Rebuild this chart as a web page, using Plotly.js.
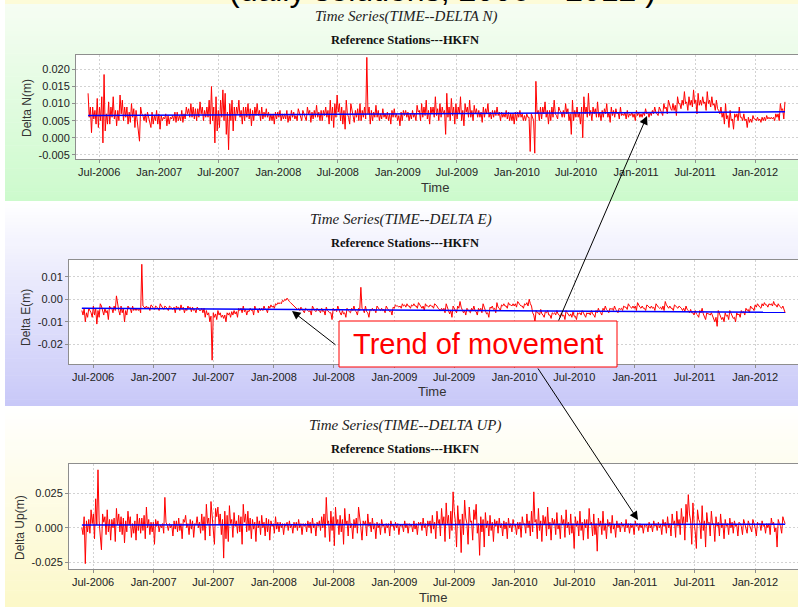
<!DOCTYPE html>
<html>
<head>
<meta charset="utf-8">
<script src="https://cdn.plot.ly/plotly-3.0.1.min.js"></script>
<style>
html,body{margin:0;padding:0;background:#ffffff;}
#chart{width:798px;height:607px;}
</style>
</head>
<body>
<div id="chart"></div>
<script>
// ---------------- DATA (in millimetres) ----------------
// Samples every 3.5 days from 2006-05-28 to 2012-04-01:
// *_HI_MM = value at the start of each week (upper side of the noise band),
// *_LO_MM = value in the middle of each week (lower side of the noise band).
const SAMPLE_START = '2006-05-28';
const SAMPLE_STEP_DAYS = 7;

const DELTA_N_HI_MM = [
  13, 9, 9, 8, 11.5, 9, 12, 18.5, 7, 10.5, 9, 12, 8,
  8, 12.5, 11, 9, 9, 7.5, 10, 8.5, 8, 3, 9, 6.5, 7,
  7.5, 5, 7.5, 6.5, 8, 7, 6.5, 6, 7, 6.5, 6, 6.5, 7.5,
  7.5, 6.5, 8, 7, 9, 8.5, 10, 9, 8.5, 8.5, 10.5, 9, 8,
  9, 11, 15, 9, 12, 8, 11, 14, 13, 7.5, 10, 11, 9,
  9, 11, 8, 9, 9, 10, 8.5, 8, 9, 10, 8, 9, 7.5,
  8.5, 7.5, 7, 7, 7.5, 7.5, 8, 7, 7, 8, 6.5, 8, 7.5,
  6.5, 8.5, 6.5, 8, 6, 9, 8, 7.5, 8, 9.5, 7.5, 8, 8,
  9, 8, 11, 9, 10, 12.5, 10, 9, 8, 11, 6, 10, 7,
  8, 8.5, 10, 8, 9, 23.5, 9, 8, 7.5, 9.5, 8, 7, 8.5,
  7, 7.5, 7, 8, 8.5, 7, 6.5, 7.5, 8, 8, 7.5, 7, 8,
  7, 9.5, 8, 10, 9, 11, 8, 9, 9, 12, 8.5, 10, 9,
  8, 13, 9, 11.5, 9, 10, 9, 12, 8, 10, 9, 11, 8,
  9.5, 8.5, 8, 7.5, 9, 8.5, 10, 7.5, 8, 8, 9, 7.5, 7.5,
  7, 8, 7.5, 7, 7, 7.5, 7.5, 8, 7, 6.5, 7, 6, 7,
  5, 16.5, 8, 9, 9, 10.5, 8, 8, 9, 11, 6.5, 9, 7.5,
  8, 10, 8.5, 7, 11, 8, 9, 7.5, 9, 12, 9, 13, 8,
  9, 8.5, 10.5, 7.5, 8, 8.5, 10, 7.5, 9, 8, 8.5, 7.5, 9,
  7, 7.5, 8, 7, 7.5, 7, 8, 7.5, 7, 7.5, 8.5, 7.5, 7.5,
  8, 9, 7, 9, 7.5, 10, 9, 11, 8.5, 10, 9.5, 12, 10,
  11, 13.5, 10.5, 12, 11, 14, 11, 13, 11, 12, 10.5, 13.5, 11,
  12, 10, 11, 8, 9, 7.5, 10, 6.5, 8, 5.5, 7, 7, 9,
  6, 7, 5.5, 6, 5.5, 6.5, 5.5, 6, 5.5, 6, 6, 6.5, 6,
  6, 6, 7, 7, 10, 8.5, 10.5
];
const DELTA_N_LO_MM = [
  6, 1.5, 5.5, 4, 3, 5, -1.5, 2, 4, 4, 6, 5.5, 3.5,
  5, 7, 5, 6, 4, 4.5, 6, 3, 5, -1, 7, 5, 4.5,
  6, 3, 4, 5, 4, 2.5, 5, 5.5, 3.5, 4, 5.5, 5, 4.5,
  5, 5, 4.5, 5.5, 7, 6, 6, 5.5, 5, 6, 7, 5, 6,
  6, 4, 5, -1.5, 2, 3, 6, 5, 1, -3.5, 5, 2, 5,
  7, 6, 4, 5, 6, 5.5, 3.5, 5, 6.5, 6.5, 5, 5.5, 6,
  6, 5, 5, 4, 5.5, 6, 5, 5.5, 5.5, 4.5, 5, 6, 5.5,
  5, 7.5, 5, 7, 5, 7, 4.5, 5.5, 6, 6, 5, 5, 6.5,
  6, 4, 5, 3, 6, 7.5, 5, 4, 2.5, 7, 4, 8, 4.5,
  6, 5, 5, 6, 5.5, 7, 4, 5, 6, 6, 5, 5.5, 6,
  5.5, 5, 4, 6, 6, 5, 3.5, 5, 6.5, 6, 5, 5.5, 6,
  5, 7.5, 5, 6, 6.5, 5.5, 4, 7, 6, 6.5, 5, 6, 7,
  1, 6, 5, 6.5, 4, 5.5, 7, 5, 3.5, 7.5, 6, 6, 5,
  7, 6, 6, 4.5, 6, 7, 6, 5.5, 6, 6.5, 6.5, 5, 6,
  6, 5.5, 5, 5, 4, 5, 6, 6, 5, 5, 6, -4, 6,
  -4.5, 7, 5, 5.5, 7, 6, 4, 5, 6, 7, 5.5, 8, 6,
  6, 7, 5, 1, 5, 6, 6, 4, 0, 7, 6, 6.5, 5,
  7, 6, 6, 5, 6, 7, 6, 4.5, 6.5, 6, 7, 5.5, 6.5,
  6.5, 5.5, 6, 6.5, 6, 5, 6.5, 6, 6, 6.5, 7, 6, 6.5,
  7, 7.5, 6.5, 8, 6.5, 8.5, 7, 9.5, 8, 8, 6.5, 10, 8.5,
  9.5, 10, 8, 9.5, 9, 10, 7, 9.5, 9.5, 10, 8, 10, 9,
  9.5, 8, 8.5, 7, 6, 4, 5.5, 3, 5, 2.5, 6, 5, 6,
  5, 5, 3, 4.5, 4.5, 5.5, 5, 5, 4.5, 5, 5, 5.5, 5.5,
  5.5, 5, 6, 5, 8, 5.5
];

const DELTA_E_HI_MM = [
  -5, -4, -6, -4, -6, -3, -4, -5, -2, -5, -4, -5, -3,
  -4, -3, 1.5, -5, -3, -4, -5, -3, -4, -3, -4, -4, -4,
  15.5, -3.5, -3, -3.5, -2.5, -4, -3, -4, -2, -4, -3, -4, -3,
  -4, -3.5, -3, -3.5, -2.5, -3.5, -4, -3, -3.5, -3.5, -4.5, -3.5, -5,
  -4, -4, -5, -6, -7.5, -6, -6.5, -5, -6, -7, -7, -6, -6,
  -5.5, -5, -5.5, -4, -4, -3, -4.5, -5, -4, -4.5, -3, -4.5, -4,
  -4, -3, -4.5, -3, -2.5, -3, -2, -1.5, -1.5, -0.5, 0, 0.5, -1,
  -2, -3, -4, -4, -3.5, -5, -4, -5, -5, -3, -5, -4, -5,
  -4, -5, -3.5, -5.5, -6, -4, -4.5, -3, -6, -5, -6, -4, -5.5,
  -4, -3, -5.5, -4, 5.3, -4.5, -3, -6, -4.5, -4, -4.5, -3, -4.5,
  -4, -4.5, -3, -5, -5, -3.5, -2.5, -3, -3, -2, -2.5, -2, -3,
  -2.5, -2, -3, -1.5, -3, -3, -2, -3, -2.5, -3, -2, -3, -4.5,
  -4, -4, -2, -5, -5, -3, -5, -3, -1, -5, -5, -4, -5.5,
  -4, -3, -5.5, -4, -4, -2, -5, -6, -3.5, -3, -4, -1.5, -4,
  -2.5, -2, -3, -1.5, -2.5, -2, -2, -1, -2.5, -3, -2, -1.5, 0,
  -3, -7, -5, -6, -4.5, -7, -5.5, -5, -7, -6, -6, -5, -7,
  -6, -7, -5, -7, -6.5, -5.5, -7.5, -6, -6, -5, -7, -6, -6,
  -5, -7, -5, -4, -6, -4, -3, -5, -4, -4, -3, -5, -4,
  -4, -3, -3.5, -2, -3.5, -3, -3, -1.5, -3.5, -3, -4, -2.5, -3.5,
  -3, -3.5, -2, -3.5, -3.5, -3, -1, -3.5, -3, -4, -2.5, -3.5, -3,
  -4, -4, -3, -5, -4.5, -6, -5, -7, -5, -4, -7.5, -6, -6.5,
  -6, -9, -8, -5, -8, -8, -6, -7, -5, -7, -8, -6, -6.5,
  -5, -5.5, -4, -4.5, -3, -4, -2.5, -2, -3.5, -2, -1.5, -2.5, -2,
  -2, -1, -2.5, -2, -3.5, -3, -6
];
const DELTA_E_LO_MM = [
  -7, -10, -8, -5, -8, -7, -11, -8, -3, -7, -6, -9, -4,
  -6, -5, -3, -7, -6, -10, -7, -4, -6, -5, -5, -5, -6,
  -3, -4, -4, -5, -3, -4.5, -3.5, -5, -3, -4.5, -3.5, -5, -3.5,
  -4.5, -6, -4, -5, -4.5, -6, -5, -4, -5.5, -5, -6, -4, -5,
  -6, -8, -7, -10, -27, -8, -9, -7, -8, -8.5, -10, -7, -8,
  -7, -6.5, -8, -5, -6, -5.5, -7, -5.5, -5, -7, -4.5, -6, -5,
  -5, -4.5, -6, -4, -3.5, -4, -2.5, -2, -2, -1, -0.5, -0.5, -1.5,
  -2.5, -3.5, -4.5, -5, -4.5, -6, -4.5, -5.5, -7, -4.5, -5.5, -5, -6,
  -5.5, -7, -5, -6, -9, -5, -5.5, -5, -7, -6.5, -8, -5, -6,
  -5, -5, -7, -5, -4, -6, -5.5, -8, -5, -5, -6, -4, -5,
  -5, -6, -4, -5.5, -7, -4, -3, -3.5, -4, -3, -3.5, -3, -4,
  -3, -3, -4, -2.5, -4, -5, -3, -3.5, -3, -4, -2.5, -4, -5,
  -5, -6, -3.5, -6.5, -8, -4.5, -6, -4, -3.5, -6, -7, -5, -6,
  -5, -5, -7, -5, -6, -3.5, -6.5, -8, -4, -4.5, -6, -3.5, -5,
  -3, -3, -4, -2.5, -3, -3, -3.5, -2, -3, -4, -2.5, -3, -2,
  -6, -10, -6, -7, -6.5, -8, -6, -7, -8.5, -6.5, -7, -6.5, -8,
  -7.5, -9, -6, -7.5, -8, -7.5, -9, -6.5, -7, -6.5, -8, -6.5, -7,
  -6.5, -8, -6, -5.5, -7, -5, -4.5, -6, -4.5, -5, -4.5, -6, -4.5,
  -5, -3.5, -4.5, -3, -4, -4, -5, -3, -4, -4, -5, -3, -4,
  -4, -5, -3, -4, -4.5, -5, -2.5, -4, -4, -5, -3, -4, -3.5,
  -5, -5.5, -4.5, -6, -6, -7, -6.5, -8, -6, -6.5, -9, -6.5, -7,
  -7.5, -10, -12, -6.5, -9, -10, -7.5, -9, -6, -8.5, -10, -7, -8,
  -6, -7, -5, -6, -4, -5, -3.5, -3, -4, -3, -2.5, -3.5, -2.5,
  -3, -2.5, -3.5, -3, -4, -4.5
];

const DELTA_UP_HI_MM = [
  0, 8, 5, 6, 13, 10, 21, 42, -6, 10, 8, 13, 6,
  6, 7, 14, 10, 8, 7, 5, 12, 8, 3, 5, 10, 7,
  7, 9, 15, 6, 4, 4, 6, 5, 2, 3, 22, 2, 3,
  2, 5, 5, 7, 3, 6, 9, 3, 6, 5, 3, 8, 4,
  10, 8, 17, 7, 19, -4, 14, 15, 10, 6, 12, 9, 16,
  6, 11, 5, 9, 8, 17, 10, 12, 7, 6, 4, 8, 5,
  9, 4, 7, 6, 5, 3, 8, 4, 4, 3, 3, 4, 5,
  2, 4, 4, 6, 3, 3, 3, 5, 4, 7, 3, 4, 5,
  8, 10, 22, 5, 12, 8, 15, 6, 9, 6, 14, 5, 10,
  3, 6, 7, 15, 0, 5, 5, 10, 4, 7, 3, 4, 3,
  6, 2, 3, 3, 5, 2, 4, 3, 2, 2, 5, 3, 3,
  2, 5, 3, 4, 4, 7, 3, 5, 5, 9, 4, 12, 6,
  14, 8, 18, 9, 12, 26, 4, 16, 6, 10, 20, 3, 15,
  5, 13, 17, 3, 8, 6, 11, 5, 9, 4, 6, 5, 7,
  3, 5, 4, 7, 3, 6, 2, 4, 4, 8, 3, 10, 5,
  12, 26, 6, 14, 5, 9, 8, 15, 4, 7, 6, 11, 3,
  9, 6, 13, 4, 10, 3, 8, 5, 12, 4, 6, 6, 14,
  4, 10, 3, 7, 5, 12, 3, 6, 4, 9, 2, 5, 3,
  4, 2, 6, 3, 3, 2, 5, 3, 3, 2, 2, 2, 4,
  2, 5, 3, 4, 2, 6, 4, 8, 3, 10, 5, 12, 6,
  14, 8, 17, 24, 5, 18, -3, 13, 4, 16, 5, 11, 4,
  12, 3, 8, 4, 10, 3, 6, 3, 7, 4, 5, 2, 4,
  1, 6, 0, 5, 1, 6, 0, 4, 3, 5, 2, 3, 3,
  7, 4, 0, 6, 1, 8, 3
];
const DELTA_UP_LO_MM = [
  -5, -26, -3, -4, 3, -8, 2, 5, -16, 4, -5, -3, -9,
  0, -10, 2, -3, -5, -11, -3, 2, -7, -4, -9, -2, -4,
  -2, -8, 0, -5, -3, -12, 1, -3, 0, -4, 4, -2, 0,
  -6, -1, -3, -2, -8, 4, 0, -5, -1, -7, 2, 0, -4,
  -2, -9, 3, -6, 10, -12, 8, 2, -5, -22, -8, -10, 3,
  -7, 1, -4, -3, -12, 4, -3, -2, -8, -1, -10, 0, -5,
  0, -6, -3, -9, 1, -4, -1, -3, 0, -5, 1, -2, 0,
  -4, 0, -2, 0, -5, 1, -3, 0, -4, 0, -6, 1, -2,
  0, -7, 3, -10, -2, -13, 2, -5, -3, -12, 2, -6, 0,
  -8, 0, -4, 4, -9, 2, -6, 1, -3, -1, -8, 0, -5,
  1, -4, 0, -6, 1, -2, 0, -5, 1, -3, 0, -4, 1,
  -3, -1, -5, 2, -2, 0, -6, 1, -4, -1, -8, 3, -6,
  2, -10, 3, -8, -2, 12, -14, 2, -18, -5, 7, -12, 4,
  -9, 6, -4, -20, -3, -14, 0, -6, -2, -10, 1, -4, 0,
  -6, -1, -8, 0, -3, 1, -5, -1, -7, 2, -4, 0, -6,
  -3, 4, -8, -2, -10, 2, -6, -1, -9, 2, -5, -1, -8,
  2, -7, 0, -5, -4, -15, 1, -6, -2, -9, 0, -8, 2,
  -6, -5, -17, 1, -5, -2, -8, 1, -4, -1, -7, 0, -3,
  1, -3, 0, -4, 0, -5, 1, -2, 0, -4, 1, -3, 0,
  -3, 1, -2, 0, -5, 1, -4, 0, -6, 2, -7, 1, -5,
  3, -9, 4, 10, -12, 4, -15, 6, -8, -2, -14, 3, -6,
  2, -10, 1, -6, 0, -8, 1, -5, 0, -4, 1, -6, 3,
  -5, 3, -4, 2, -3, 3, -6, 2, -2, 1, -4, 0, -5,
  2, -3, -14, 3, -4, 5
];

// Linear trend lines (start, end), millimetres
const TREND_DATES = ['2006-05-28', '2012-04-01'];
const TREND_N_MM = [6.5, 7.6];
const TREND_E_MM = [-4.0, -5.8];
const TREND_UP_MM = [2.0, 2.6];

// Tick values / labels
const N_TICKVALS = [-0.005, 0, 0.005, 0.010, 0.015, 0.020];
const N_TICKTEXT = ['-0.005', '0.000', '0.005', '0.010', '0.015', '0.020'];
const E_TICKVALS = [-0.02, -0.01, 0, 0.01];
const E_TICKTEXT = ['-0.02', '-0.01', '0.00', '0.01'];
const UP_TICKVALS = [-0.025, 0, 0.025];
const UP_TICKTEXT = ['-0.025', '0.000', '0.025'];

// Text
const SLIDE_TITLE = '(daily solutions, 2006 \u2013 2012 )';
const PANEL_TITLES = ['Time Series(TIME--DELTA N)', 'Time Series(TIME--DELTA E)', 'Time Series(TIME--DELTA UP)'];
const PANEL_SUBTITLE = 'Reference Stations---HKFN';
const Y_TITLES = ['Delta N(m)', 'Delta E(m)', 'Delta Up(m)'];
const X_TITLE = 'Time';
const CALLOUT = 'Trend of movement';

// ---------------- BUILD ----------------
const W = 798, H = 607;
const px = x => x / W;
const py = y => 1 - y / H;

function isoAt(ms) { return new Date(ms).toISOString().slice(0, 16).replace('T', ' '); }

// merge week-start + mid-week samples in time order
function mergedSeries(hi, lo) {
  const t0 = Date.parse(SAMPLE_START + 'T00:00:00Z');
  const step = SAMPLE_STEP_DAYS * 86400000;
  const xs = [], ys = [];
  for (let i = 0; i < hi.length; i++) {
    xs.push(isoAt(t0 + i * step)); ys.push(hi[i] / 1000);
    if (i < lo.length) { xs.push(isoAt(t0 + i * step + step / 2)); ys.push(lo[i] / 1000); }
  }
  return { xs, ys };
}

const SANS = 'Arial, "Liberation Sans", sans-serif';
const SERIF = '"Times New Roman", "Liberation Serif", serif';

function series(hi, lo, xa, ya) {
  const s = mergedSeries(hi, lo);
  return { x: s.xs, y: s.ys, xaxis: xa, yaxis: ya, type: 'scatter', mode: 'lines',
    line: { color: '#ff0000', width: 1 }, hoverinfo: 'skip' };
}
function trend(vals, xa, ya) {
  return { x: TREND_DATES, y: vals.map(v => v / 1000), xaxis: xa, yaxis: ya, type: 'scatter', mode: 'lines',
    line: { color: '#0000ff', width: 1.5 }, hoverinfo: 'skip' };
}

const traces = [
  series(DELTA_N_HI_MM, DELTA_N_LO_MM, 'x', 'y'), trend(TREND_N_MM, 'x', 'y'),
  series(DELTA_E_HI_MM, DELTA_E_LO_MM, 'x2', 'y2'), trend(TREND_E_MM, 'x2', 'y2'),
  series(DELTA_UP_HI_MM, DELTA_UP_LO_MM, 'x3', 'y3'), trend(TREND_UP_MM, 'x3', 'y3')
];

const axisBase = {
  showgrid: true, gridcolor: '#d2d2d2', griddash: '2px,2px', gridwidth: 1,
  showline: true, mirror: true, linecolor: '#8e8e8e', linewidth: 1,
  ticks: 'outside', ticklen: 3, tickcolor: '#8e8e8e',
  tickfont: { family: SANS, size: 11, color: '#222222' },
  zeroline: false, fixedrange: true
};
function xax(domain, range, anchor) {
  return Object.assign({}, axisBase, { domain, range, anchor, type: 'date',
    tickformat: '%b-%Y', dtick: 'M6', tick0: '2006-07-01' });
}
function yax(domain, range, anchor, vals, text) {
  return Object.assign({}, axisBase, { domain, range, anchor, tickmode: 'array', tickvals: vals, ticktext: text });
}

// Background gradient strips
function lerp(a, b, t) { return Math.round(a + (b - a) * t); }
function hex(c) { return [parseInt(c.slice(1, 3), 16), parseInt(c.slice(3, 5), 16), parseInt(c.slice(5, 7), 16)]; }
function strips(top, bottom, c0, c1, n) {
  const a = hex(c0), b = hex(c1), out = [];
  const h = (bottom - top) / n;
  for (let i = 0; i < n; i++) {
    const t = (i + 0.5) / n;
    const col = 'rgb(' + lerp(a[0], b[0], t) + ',' + lerp(a[1], b[1], t) + ',' + lerp(a[2], b[2], t) + ')';
    out.push({ type: 'rect', xref: 'paper', yref: 'paper', layer: 'below',
      x0: px(5), x1: 1, y0: py(Math.min(bottom, top + (i + 1) * h + 0.6)), y1: py(top + i * h),
      fillcolor: col, line: { width: 0 } });
  }
  return out;
}
function plotBg(x0, y0, x1, y1) {
  return { type: 'rect', xref: 'paper', yref: 'paper', layer: 'below',
    x0: px(x0), x1: px(x1), y0: py(y1), y1: py(y0), fillcolor: '#ffffff', line: { width: 0 } };
}

const shapes = [].concat(
  [{ type: 'rect', xref: 'paper', yref: 'paper', layer: 'below', x0: px(5), x1: 1, y0: py(4), y1: 1,
     fillcolor: '#fdfbd8', line: { width: 0 } }],
  strips(4, 201, '#f6fdf3', '#ccfacc', 60),
  strips(201, 406, '#ffffff', '#c8c8f8', 60),
  strips(406, 607, '#ffffff', '#fcf8c8', 60),
  [plotBg(76, 55, 798, 159), plotBg(69, 260, 798, 364), plotBg(69, 464, 798, 569)],
  [{ type: 'rect', xref: 'paper', yref: 'paper', layer: 'above',
     x0: px(339), x1: px(617), y0: py(367), y1: py(321),
     fillcolor: '#ffffff', line: { color: '#ff0000', width: 1 } }]
);

function txt(text, x, y, size, extra) {
  return Object.assign({ text, x: px(x), y: py(y), xref: 'paper', yref: 'paper', showarrow: false,
    xanchor: 'center', yanchor: 'middle', font: { family: SANS, size, color: '#333333' } }, extra || {});
}
function arrow(hx, hy, tx, ty) {
  return { text: '', x: px(hx), y: py(hy), xref: 'paper', yref: 'paper', showarrow: true,
    ax: tx - hx, ay: ty - hy, arrowhead: 2, arrowsize: 1.7, arrowwidth: 1, arrowcolor: '#000000', standoff: 0 };
}

const annotations = [
  txt(SLIDE_TITLE, 442, 10, 32, { yanchor: 'bottom', font: { family: SANS, size: 32, color: '#000000' } }),

  txt('<i>' + PANEL_TITLES[0] + '</i>', 406, 17, 15, { font: { family: SERIF, size: 15, color: '#222222' } }),
  txt('<b>' + PANEL_SUBTITLE + '</b>', 405, 40, 12.5, { font: { family: SERIF, size: 12.5, color: '#111111' } }),
  txt('<i>' + PANEL_TITLES[1] + '</i>', 401, 219, 15, { font: { family: SERIF, size: 15, color: '#222222' } }),
  txt('<b>' + PANEL_SUBTITLE + '</b>', 405, 243, 12.5, { font: { family: SERIF, size: 12.5, color: '#111111' } }),
  txt('<i>' + PANEL_TITLES[2] + '</i>', 405, 425, 15, { font: { family: SERIF, size: 15, color: '#222222' } }),
  txt('<b>' + PANEL_SUBTITLE + '</b>', 405, 449, 12.5, { font: { family: SERIF, size: 12.5, color: '#111111' } }),

  txt(Y_TITLES[0], 27, 108, 12, { textangle: -90 }),
  txt(Y_TITLES[1], 26, 318, 12, { textangle: -90 }),
  txt(Y_TITLES[2], 20, 528, 12, { textangle: -90 }),

  txt(X_TITLE, 435, 187, 13),
  txt(X_TITLE, 432, 392, 13),
  txt(X_TITLE, 433, 597, 13),

  arrow(647, 116, 558, 322),
  arrow(292, 311, 337, 346),
  arrow(638, 520, 537, 367),

  txt(CALLOUT, 478, 344, 29, { font: { family: SANS, size: 29, color: '#ff0000' } })
];

const layout = {
  width: W, height: H, margin: { l: 0, r: 0, t: 0, b: 0 },
  paper_bgcolor: '#ffffff', plot_bgcolor: 'rgba(0,0,0,0)', showlegend: false,
  xaxis: xax([px(76), 1], ['2006-04-21', '2012-05-11'], 'y'),
  yaxis: yax([py(159), py(55)], [-0.0062, 0.0242], 'x', N_TICKVALS, N_TICKTEXT),
  xaxis2: xax([px(69), 1], ['2006-04-19', '2012-05-10'], 'y2'),
  yaxis2: yax([py(364), py(260)], [-0.0287, 0.0174], 'x2', E_TICKVALS, E_TICKTEXT),
  xaxis3: xax([px(69), 1], ['2006-04-19', '2012-05-10'], 'y3'),
  yaxis3: yax([py(569), py(464)], [-0.0299, 0.0462], 'x3', UP_TICKVALS, UP_TICKTEXT),
  shapes, annotations
};

Plotly.newPlot('chart', traces, layout, { displayModeBar: false, staticPlot: true });
</script>
</body>
</html>
